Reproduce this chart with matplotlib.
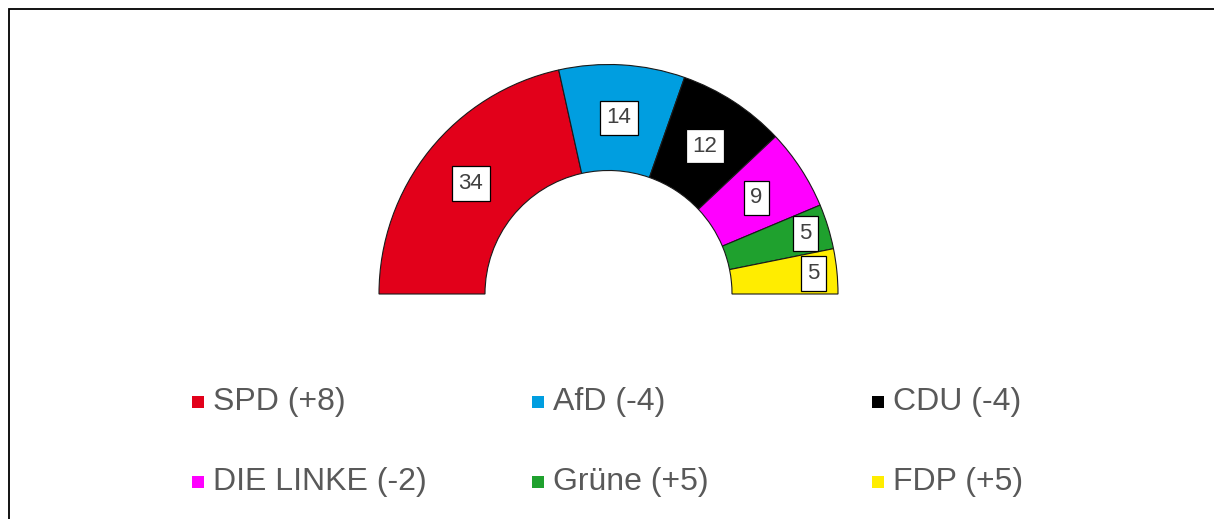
import numpy as np
import matplotlib.pyplot as plt
from matplotlib.patches import Rectangle

# Sitzverteilung
parties = ['SPD', 'AfD', 'CDU', 'DIE LINKE', 'Grüne', 'FDP']
seats = [34, 14, 12, 9, 5, 5]
changes = ['+8', '-4', '-4', '-2', '+5', '+5']
colors = ['#E2001A', '#009EE0', '#000000', '#FF00FF', '#1FA12E', '#FFED00']

plt.rcParams['font.family'] = ['Liberation Sans', 'DejaVu Sans']

W, H = 1214, 519
fig = plt.figure(figsize=(W / 100, H / 100), dpi=100)
ax = fig.add_axes([0, 0, 1, 1])

cx, cy = 608.5, H - 294
r_out, r_in = 229.5, 123.5
total = sum(seats)

# Halbkreis: unsichtbare untere Hälfte als Füllwert
wedges, _ = ax.pie(seats + [total], colors=colors + ['white'],
                   startangle=180, counterclock=False,
                   center=(cx, cy), radius=r_out,
                   wedgeprops=dict(width=r_out - r_in, edgecolor='#1a1a1a', linewidth=0.8))
wedges[-1].set_visible(False)

# Datenbeschriftungen
cum = 0
for v in seats:
    ang = np.deg2rad(180 - 180 * (cum + v / 2) / total)
    r = (r_out + r_in) / 2 if v > 5 else 206
    ax.text(cx + r * np.cos(ang), cy + r * np.sin(ang), str(v),
            ha='center', va='center', fontsize=16, color='#404040',
            bbox=dict(boxstyle='square,pad=0.3', fc='white', ec='black', lw=0.9))
    cum += v

# Legende
for i, (name, d, c) in enumerate(zip(parties, changes, colors)):
    col, row = i % 3, i // 3
    x = 192 + col * 340
    y = H - (402 + row * 80)
    ax.add_patch(Rectangle((x, y - 6), 12, 12, fc=c, ec='none'))
    ax.text(x + 21, y, f'{name} ({d})', ha='left', va='center',
            fontsize=23, color='#595959')

# Rahmen
ax.add_patch(Rectangle((9, -20), W + 40, H - 9 + 20, fill=False, ec='black', lw=1.3))

ax.set_xlim(0, W)
ax.set_ylim(0, H)
ax.axis('off')

fig.savefig('out.png', dpi=100)
